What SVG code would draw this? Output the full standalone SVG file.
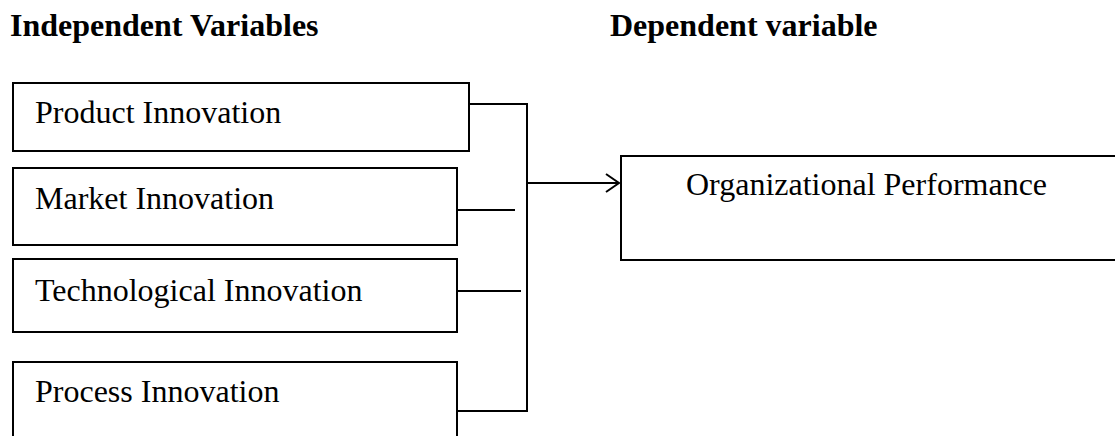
<svg xmlns="http://www.w3.org/2000/svg" width="1115" height="436" viewBox="0 0 1115 436">
<style>
.box{fill:#fff;stroke:#000;stroke-width:2}
.lbl{font-family:"Liberation Serif","Times New Roman",serif;font-size:32px;fill:#000}
.hdr{font-family:"Liberation Serif","Times New Roman",serif;font-size:32px;font-weight:bold;fill:#000}
.ln{fill:none;stroke:#000;stroke-width:2}
</style>
<defs>
<marker id="arr" markerWidth="16" markerHeight="20" refX="14" refY="10" orient="auto" markerUnits="userSpaceOnUse">
<path d="M1,1 L14,10 L1,19" fill="none" stroke="#000" stroke-width="2"/>
</marker>
</defs>
<rect width="1115" height="436" fill="#fff"/>
<g id="headers">
<text class="hdr" x="10" y="36">Independent Variables</text>
<text class="hdr" x="610" y="36">Dependent variable</text>
</g>
<g id="product">
<rect class="box" x="13" y="83" width="456" height="68"/>
<text class="lbl" x="35" y="123">Product Innovation</text>
</g>
<g id="market">
<rect class="box" x="13" y="168" width="444" height="77"/>
<text class="lbl" x="35" y="209">Market Innovation</text>
</g>
<g id="technological">
<rect class="box" x="13" y="259" width="444" height="73"/>
<text class="lbl" x="35" y="301">Technological Innovation</text>
</g>
<g id="process">
<rect class="box" x="13" y="362" width="444" height="90"/>
<text class="lbl" x="35" y="402">Process Innovation</text>
</g>
<g id="performance">
<rect class="box" x="621" y="156" width="510" height="104"/>
<text class="lbl" x="686" y="195">Organizational Performance</text>
</g>
<g id="connectors">
<path class="ln" d="M469,104 H527 V411 H457"/>
<path class="ln" d="M457,210 H515"/>
<path class="ln" d="M457,291 H521"/>
<path class="ln" d="M527,183 H619" marker-end="url(#arr)"/>
</g>
</svg>
